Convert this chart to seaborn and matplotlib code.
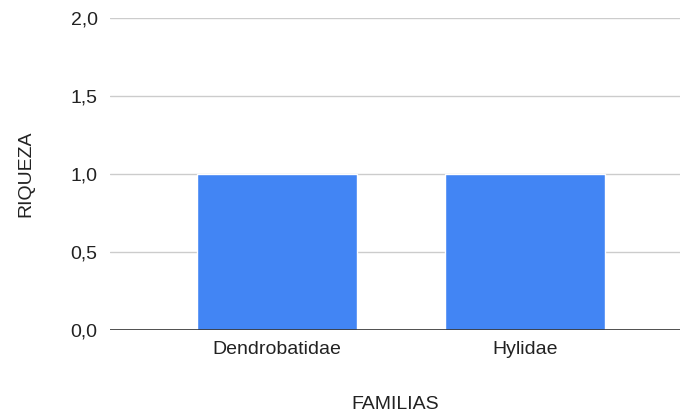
import matplotlib
matplotlib.use("Agg")
import matplotlib.pyplot as plt
import pandas as pd
import seaborn as sns

# Data
familias = ['Dendrobatidae', 'Hylidae']
riqueza = [1.0, 1.0]
y_ticks = [0.0, 0.5, 1.0, 1.5, 2.0]
y_tick_labels = ['0,0', '0,5', '1,0', '1,5', '2,0']

df = pd.DataFrame({'familia': familias, 'riqueza': riqueza})

sns.set_style('white')
plt.rcParams['font.family'] = ['Liberation Sans', 'DejaVu Sans']

fig = plt.figure(figsize=(6.8, 4.12), dpi=100)
ax = fig.add_axes([0.1618, 0.199, 0.8382, 0.757])

sns.barplot(data=df, x='familia', y='riqueza', color='#4285F4', saturation=1,
            width=0.645, ax=ax, zorder=3)

ax.set_xlim(-0.673, 1.625)
ax.set_ylim(0, 2.0)
ax.set_yticks(y_ticks)
ax.set_yticklabels(y_tick_labels)
ax.grid(axis='y', color='#cccccc', linewidth=1, zorder=0)
ax.axhline(0, color='#333333', linewidth=1.2, zorder=4)

for s in ax.spines.values():
    s.set_visible(False)
ax.tick_params(axis='both', length=0, labelsize=14, colors='#222222')
ax.tick_params(axis='y', pad=9)
ax.tick_params(axis='x', pad=8)

ax.set_xlabel('FAMILIAS', fontsize=14, color='#222222', labelpad=27)
ax.set_ylabel('RIQUEZA', fontsize=14, color='#222222', labelpad=26)

fig.savefig('out.png', dpi=100)
